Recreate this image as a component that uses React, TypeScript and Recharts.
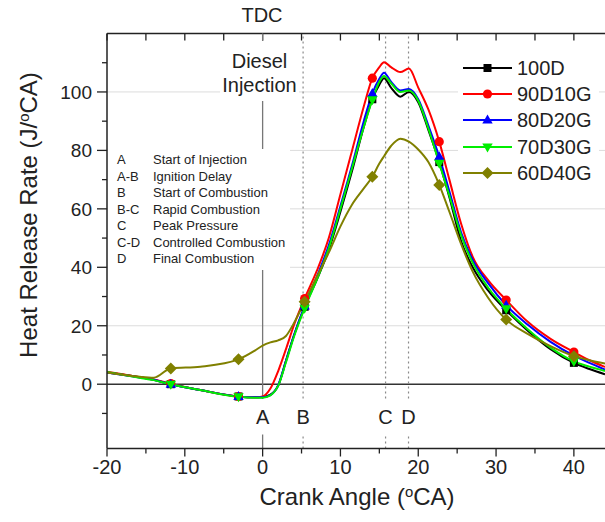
import React from "react";
import { LineChart, Line, XAxis, YAxis, ReferenceLine } from "recharts";

const crankAngle = [-20, -16, -14, -11.8, -8, -3.1, -1, 0, 1, 2, 3, 4, 5.4, 7, 8.5, 10, 11.5, 13, 14.1, 15, 15.6, 16.5, 17.7, 18.8, 20, 21.3, 22.7, 24, 25.5, 27, 29, 31.3, 34, 37, 40, 42, 44];
const hrr100D = [4.0, 2.5, 1.5, 0, -2, -4.2, -4.5, -4.4, -3.6, -0.5, 8, 16.5, 26.5, 36, 46, 59, 73, 88, 97.5, 102.5, 104.7, 101.5, 98.4, 100, 96.5, 87, 76, 64, 49, 40, 32, 25.3, 18.5, 12, 7.3, 5.2, 3.4];
const hrr90D10G = [4.3, 2.5, 1.6, 0.2, -2, -4.2, -4.5, -4.2, -1.5, 4.5, 12, 20, 29.3, 39, 50, 65, 80, 95, 104.7, 108.5, 110.2, 108.5, 106.8, 108, 101.5, 94, 83, 70, 55, 43.6, 35.5, 28.8, 21.5, 15.5, 11, 8.2, 5.9];
const hrr80D20G = [4.0, 2.4, 1.5, 0, -2, -4.2, -4.5, -4.5, -3.7, -0.3, 8, 16.5, 26.8, 37, 47.5, 61, 75, 90, 99.5, 104.5, 106.6, 103.5, 100.5, 101, 97.5, 88.5, 77.8, 66, 52, 42.5, 34.5, 27, 20.5, 14.5, 9.8, 7.3, 5];
const hrr70D30G = [4.2, 2.3, 1.4, 0, -2, -4.3, -4.6, -4.6, -3.8, -0.5, 7.5, 16, 26, 36, 46.5, 60, 74, 88, 97.3, 103.5, 105.5, 103, 100, 100.5, 97, 87.5, 75.6, 64.5, 51, 41.5, 33, 25.8, 19, 12.5, 7.8, 6, 4.5];
const hrr60D40G = [4.0, 2.6, 2.2, 5.4, 6, 8.5, 11.5, 13.2, 14.3, 15, 16.5, 20.8, 28.2, 37, 45, 54, 61.5, 67, 71, 75.5, 78, 81.5, 84, 83, 80.3, 76, 68.2, 59, 48, 38.5, 29.5, 22.1, 17.3, 13, 9.6, 8.2, 7.1];

const markerAngles = [-11.8, -3.1, 5.4, 14.1, 22.7, 31.3, 40];
const xTicks = [-20, -15, -10, -5, 0, 5, 10, 15, 20, 25, 30, 35, 40];
const yTicks = [-10, 0, 10, 20, 30, 40, 50, 60, 70, 80, 90, 100, 110];
const gridValues = [20, 40, 60, 80, 100];
const eventAngles = [0, 5.2, 15.8, 18.75];
const eventLabels = ["A", "B", "C", "D"];
const phaseCodes = ["A", "A-B", "B", "B-C", "C", "C-D", "D"];
const phaseNames = [
  "Start of Injection",
  "Ignition Delay",
  "Start of Combustion",
  "Rapid Combustion",
  "Peak Pressure",
  "Controlled Combustion",
  "Final Combustion",
];

const series = [
  { key: "d100", name: "100D", values: hrr100D, color: "#000000", shape: "square" },
  { key: "d90", name: "90D10G", values: hrr90D10G, color: "#ff0000", shape: "circle" },
  { key: "d80", name: "80D20G", values: hrr80D20G, color: "#0000ff", shape: "up" },
  { key: "d70", name: "70D30G", values: hrr70D30G, color: "#00ee00", shape: "down" },
  { key: "d60", name: "60D40G", values: hrr60D40G, color: "#808000", shape: "diamond" },
];

const data = crankAngle.map((angle, i) => {
  const row: any = { angle };
  series.forEach((s) => (row[s.key] = s.values[i]));
  return row;
});

const FONT = "'Liberation Sans', Arial, Helvetica, sans-serif";
const INK = "#222";

function Marker({ cx, cy, shape, color }: any) {
  switch (shape) {
    case "square":
      return <rect x={cx - 4} y={cy - 4} width={8} height={8} fill={color} />;
    case "circle":
      return <circle cx={cx} cy={cy} r={4.6} fill={color} />;
    case "up":
      return <polygon points={`${cx},${cy - 5.5} ${cx + 5.2},${cy + 3.5} ${cx - 5.2},${cy + 3.5}`} fill={color} />;
    case "down":
      return <polygon points={`${cx},${cy + 5.5} ${cx + 5.2},${cy - 3.5} ${cx - 5.2},${cy - 3.5}`} fill={color} />;
    default:
      return <polygon points={`${cx},${cy - 6} ${cx + 6},${cy} ${cx},${cy + 6} ${cx - 6},${cy}`} fill={color} />;
  }
}

const makeDot = (shape: string, color: string) => (props: any) => {
  const { cx, cy, payload, index } = props;
  if (!markerAngles.includes(payload.angle)) return <g key={`e${index}`} />;
  return (
    <g key={`m${index}`}>
      <Marker cx={cx} cy={cy} shape={shape} color={color} />
    </g>
  );
};

function XTick(props: any) {
  const { x, y, payload } = props;
  const v = payload.value;
  const axisY = y - 4 - 8;
  const major = v % 10 === 0;
  return (
    <g>
      <line x1={x} x2={x} y1={axisY} y2={axisY + (major ? 8 : 5)} stroke={INK} strokeWidth={1.3} />
      {major && (
        <text x={x} y={axisY + 25} textAnchor="middle" fontSize={20} fontFamily={FONT} fill={INK}>
          {v}
        </text>
      )}
    </g>
  );
}

function YTick(props: any) {
  const { x, y, payload } = props;
  const v = payload.value;
  const axisX = x + 5 + 10;
  const major = v % 20 === 0;
  return (
    <g>
      <line x1={axisX - (major ? 10 : 5)} x2={axisX} y1={y} y2={y} stroke={INK} strokeWidth={1.3} />
      {major && v >= 0 && v <= 100 && (
        <text x={x} y={y + 6.8} textAnchor="end" fontSize={19} fontFamily={FONT} fill={INK}>
          {v}
        </text>
      )}
    </g>
  );
}

function EventLabel({ viewBox, text }: any) {
  const { x, y, height } = viewBox;
  const bottom = y + height;
  return (
    <g>
      <rect x={x - 9} y={bottom - 49.5} width={18} height={35.5} fill="#fff" />
      <text x={x} y={bottom - 25} textAnchor="middle" fontSize={20} fontFamily={FONT} fill={INK}>
        {text}
      </text>
    </g>
  );
}

const abs = (style: React.CSSProperties): React.CSSProperties => ({
  position: "absolute",
  fontFamily: FONT,
  color: INK,
  ...style,
});

const sup: React.CSSProperties = { fontSize: "0.62em", verticalAlign: "0.55em", lineHeight: 0 };

export default function App() {
  return (
    <div style={{ position: "absolute", left: 0, top: 0, width: 605, height: 522, background: "#fff", overflow: "hidden" }}>
      <LineChart width={605} height={522} data={data} margin={{ top: 33.5, right: 0, bottom: 43.5, left: 0 }}>
        <XAxis
          dataKey="angle"
          type="number"
          domain={[-20, 44]}
          ticks={xTicks}
          interval={0}
          height={30}
          tickSize={8}
          tickMargin={4}
          tickLine={false}
          tick={<XTick />}
          axisLine={{ stroke: INK, strokeWidth: 1.5 }}
          allowDataOverflow
        />
        <YAxis
          type="number"
          domain={[-22, 120]}
          ticks={yTicks}
          interval={0}
          width={107}
          tickSize={10}
          tickMargin={5}
          tickLine={false}
          tick={<YTick />}
          axisLine={{ stroke: INK, strokeWidth: 1.5 }}
          allowDataOverflow
        />
        {gridValues.map((v) => (
          <ReferenceLine key={`g${v}`} y={v} stroke="#dcdcdc" strokeWidth={1} />
        ))}
        <ReferenceLine y={0} stroke="#333" strokeWidth={1.6} />
        <ReferenceLine y={120} stroke={INK} strokeWidth={1.5} />
        {xTicks.map((v) => (
          <ReferenceLine key={`t${v}`} segment={[{ x: v, y: 120 }, { x: v, y: 117.6 }]} stroke={INK} strokeWidth={1.3} />
        ))}
        {eventAngles.map((a, i) => (
          <ReferenceLine
            key={`ev${i}`}
            x={a}
            stroke={i === 0 ? "#777" : "#8a8a8a"}
            strokeWidth={i === 0 ? 1.3 : 1.2}
            strokeDasharray={i === 0 ? undefined : "2 3"}
            label={<EventLabel text={eventLabels[i]} />}
          />
        ))}
        {series.map((s) => (
          <Line
            key={s.key}
            dataKey={s.key}
            name={s.name}
            type="monotone"
            stroke={s.color}
            strokeWidth={2}
            dot={makeDot(s.shape, s.color)}
            activeDot={false}
            isAnimationActive={false}
          />
        ))}
      </LineChart>

      {/* TDC and injection note */}
      <div style={abs({ left: 222, top: 3, width: 80, textAlign: "center", fontSize: 20, lineHeight: "24px" })}>TDC</div>
      <div
        style={abs({
          left: 220,
          top: 41,
          width: 79,
          paddingTop: 8,
          paddingBottom: 4,
          textAlign: "center",
          fontSize: 20,
          lineHeight: "24px",
          background: "#fff",
        })}
      >
        Diesel
        <br />
        Injection
      </div>

      {/* phase key */}
      <div style={abs({ left: 108, top: 149, width: 182, height: 121, background: "#fff", fontSize: 13, lineHeight: "16.5px" })}>
        {phaseCodes.map((c, i) => (
          <div key={c} style={{ position: "absolute", left: 9, top: 3.4 + i * 16.5, whiteSpace: "nowrap" }}>
            <span style={{ display: "inline-block", width: 36 }}>{c}</span>
            {phaseNames[i]}
          </div>
        ))}
      </div>

      {/* legend */}
      <div style={abs({ left: 458, top: 55, width: 141, height: 131, background: "#fff" })}>
        {series.map((s, i) => (
          <div key={s.key} style={{ position: "absolute", left: 3, top: 0 + i * 26.2, height: 26, display: "flex", alignItems: "center" }}>
            <svg width={52} height={26} style={{ display: "block" }}>
              <line x1={2} x2={51} y1={13} y2={13} stroke={s.color} strokeWidth={2} />
              <Marker cx={26.5} cy={13} shape={s.shape} color={s.color} />
            </svg>
            <span style={{ fontSize: 20, lineHeight: "26px", marginLeft: 4 }}>{s.name}</span>
          </div>
        ))}
      </div>

      {/* axis titles */}
      <div
        style={abs({
          left: 29 - 180,
          top: 215 - 15,
          width: 360,
          height: 30,
          lineHeight: "30px",
          textAlign: "center",
          fontSize: 24,
          transform: "rotate(-90deg)",
          whiteSpace: "nowrap",
        })}
      >
        Heat Release Rate (J/<span style={sup}>o</span>CA)
      </div>
      <div style={abs({ left: 157, top: 482, width: 400, textAlign: "center", fontSize: 24, lineHeight: "30px" })}>
        Crank Angle (<span style={sup}>o</span>CA)
      </div>
    </div>
  );
}
